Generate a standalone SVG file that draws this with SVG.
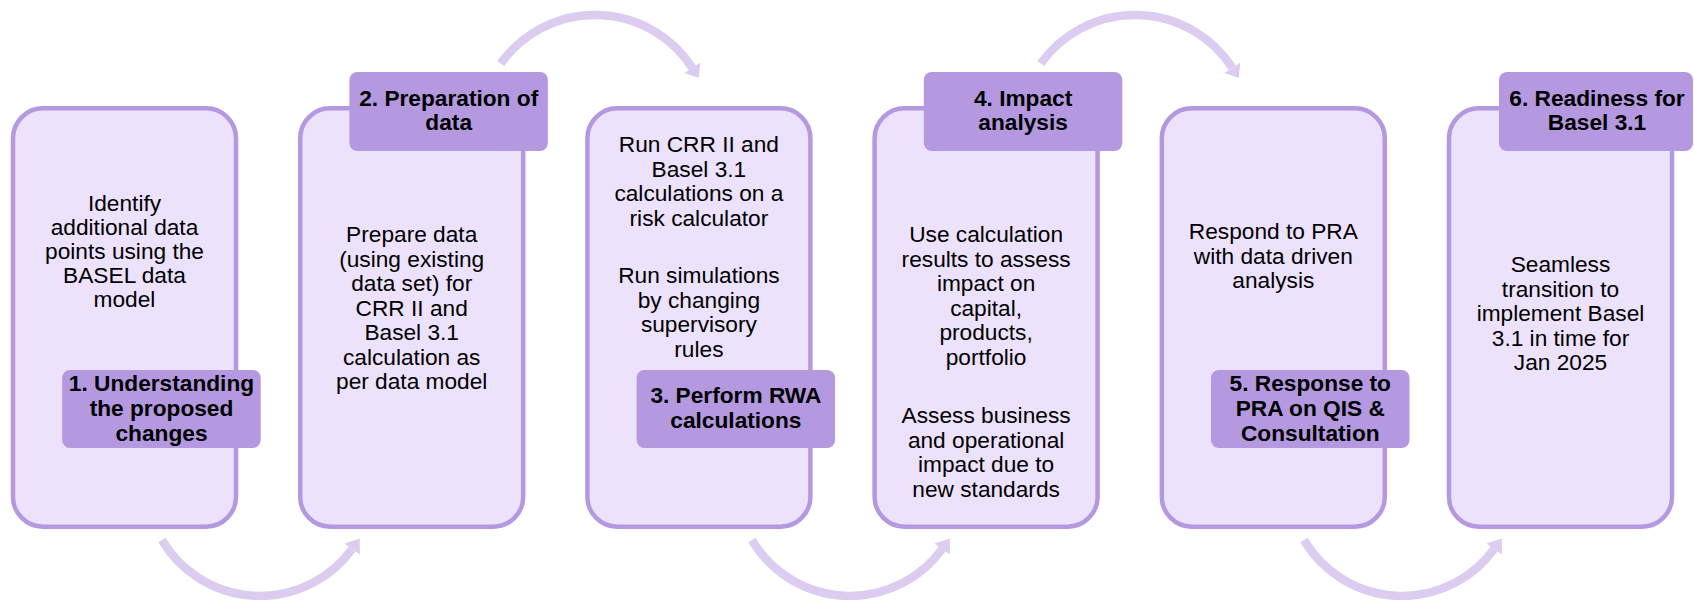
<svg xmlns="http://www.w3.org/2000/svg" width="1694" height="600" viewBox="0 0 1694 600">
<style>
.box{fill:#ECE2FC;stroke:#B498E0;stroke-width:4.5}
.lab{fill:#B498E0}
.t{font-family:"Liberation Sans",Arial,sans-serif;font-size:22.7px;fill:#000;text-anchor:middle}
.b{font-weight:bold}
.arc{fill:none;stroke:#DCCDF0;stroke-width:8.5}
.head{fill:#DCCDF0}
</style>
<rect width="1694" height="600" fill="#fff"/>
<g id="connectors">
  <path class="arc" d="M500.7,63.5 A116,116 0 0 1 692.3,67.8"/>
  <polygon class="head" points="700.3,62.6 698.8,77.9 684.3,73"/>
  <path class="arc" d="M1040.7,63.5 A116,116 0 0 1 1232.3,67.8"/>
  <polygon class="head" points="1240.3,62.6 1238.8,77.9 1224.3,73"/>
  <path class="arc" d="M161.9,540 A114,114 0 0 0 352.2,549"/>
  <polygon class="head" points="344.5,543.4 359.8,538.5 359.9,554.6"/>
  <path class="arc" d="M751.9,540 A114,114 0 0 0 942.2,549"/>
  <polygon class="head" points="934.5,543.4 949.8,538.5 949.9,554.6"/>
  <path class="arc" d="M1303.9,540 A114,114 0 0 0 1494.2,549"/>
  <polygon class="head" points="1486.5,543.4 1501.8,538.5 1501.9,554.6"/>
</g>
<g id="node1">
  <rect class="box" x="13" y="108.25" width="223" height="418.5" rx="30"/>
  <text class="t" x="124.5"><tspan x="124.5" y="211">Identify</tspan><tspan x="124.5" y="235">additional data</tspan><tspan x="124.5" y="259">points using the</tspan><tspan x="124.5" y="283">BASEL data</tspan><tspan x="124.5" y="307">model</tspan></text>
  <rect class="lab" x="62.2" y="370" width="198.5" height="78" rx="8"/>
  <text class="t b"><tspan x="161.5" y="391">1. Understanding</tspan><tspan x="161.5" y="416">the proposed</tspan><tspan x="161.5" y="441">changes</tspan></text>
</g>
<g id="node2">
  <rect class="box" x="300.2" y="108.25" width="223" height="418.5" rx="30"/>
  <text class="t"><tspan x="411.7" y="242">Prepare data</tspan><tspan x="411.7" y="266.5">(using existing</tspan><tspan x="411.7" y="291">data set) for</tspan><tspan x="411.7" y="315.5">CRR II and</tspan><tspan x="411.7" y="340">Basel 3.1</tspan><tspan x="411.7" y="364.5">calculation as</tspan><tspan x="411.7" y="389">per data model</tspan></text>
  <rect class="lab" x="349.4" y="72" width="198.5" height="79" rx="8"/>
  <text class="t b"><tspan x="448.7" y="106">2. Preparation of</tspan><tspan x="448.7" y="130">data</tspan></text>
</g>
<g id="node3">
  <rect class="box" x="587.4" y="108.25" width="223" height="418.5" rx="30"/>
  <text class="t"><tspan x="698.9" y="152">Run CRR II and</tspan><tspan x="698.9" y="176.5">Basel 3.1</tspan><tspan x="698.9" y="201">calculations on a</tspan><tspan x="698.9" y="225.5">risk calculator</tspan><tspan x="698.9" y="283">Run simulations</tspan><tspan x="698.9" y="307.5">by changing</tspan><tspan x="698.9" y="332">supervisory</tspan><tspan x="698.9" y="356.5">rules</tspan></text>
  <rect class="lab" x="636.6" y="370" width="198.5" height="78" rx="8"/>
  <text class="t b"><tspan x="735.9" y="403">3. Perform RWA</tspan><tspan x="735.9" y="428">calculations</tspan></text>
</g>
<g id="node4">
  <rect class="box" x="874.6" y="108.25" width="223" height="418.5" rx="30"/>
  <text class="t"><tspan x="986.1" y="242">Use calculation</tspan><tspan x="986.1" y="266.5">results to assess</tspan><tspan x="986.1" y="291">impact on</tspan><tspan x="986.1" y="315.5">capital,</tspan><tspan x="986.1" y="340">products,</tspan><tspan x="986.1" y="364.5">portfolio</tspan><tspan x="986.1" y="423">Assess business</tspan><tspan x="986.1" y="447.5">and operational</tspan><tspan x="986.1" y="472">impact due to</tspan><tspan x="986.1" y="496.5">new standards</tspan></text>
  <rect class="lab" x="923.8" y="72" width="198.5" height="79" rx="8"/>
  <text class="t b"><tspan x="1023.1" y="106">4. Impact</tspan><tspan x="1023.1" y="130">analysis</tspan></text>
</g>
<g id="node5">
  <rect class="box" x="1161.8" y="108.25" width="223" height="418.5" rx="30"/>
  <text class="t"><tspan x="1273.3" y="239">Respond to PRA</tspan><tspan x="1273.3" y="263.5">with data driven</tspan><tspan x="1273.3" y="288">analysis</tspan></text>
  <rect class="lab" x="1211" y="370" width="198.5" height="78" rx="8"/>
  <text class="t b"><tspan x="1310.3" y="391">5. Response to</tspan><tspan x="1310.3" y="416">PRA on QIS &amp;</tspan><tspan x="1310.3" y="441">Consultation</tspan></text>
</g>
<g id="node6">
  <rect class="box" x="1449" y="108.25" width="223" height="418.5" rx="30"/>
  <text class="t"><tspan x="1560.5" y="272">Seamless</tspan><tspan x="1560.5" y="296.5">transition to</tspan><tspan x="1560.5" y="321">implement Basel</tspan><tspan x="1560.5" y="345.5">3.1 in time for</tspan><tspan x="1560.5" y="370">Jan 2025</tspan></text>
  <rect class="lab" x="1499" y="72" width="194" height="79" rx="8"/>
  <text class="t b"><tspan x="1597" y="106">6. Readiness for</tspan><tspan x="1597" y="130">Basel 3.1</tspan></text>
</g>
</svg>
